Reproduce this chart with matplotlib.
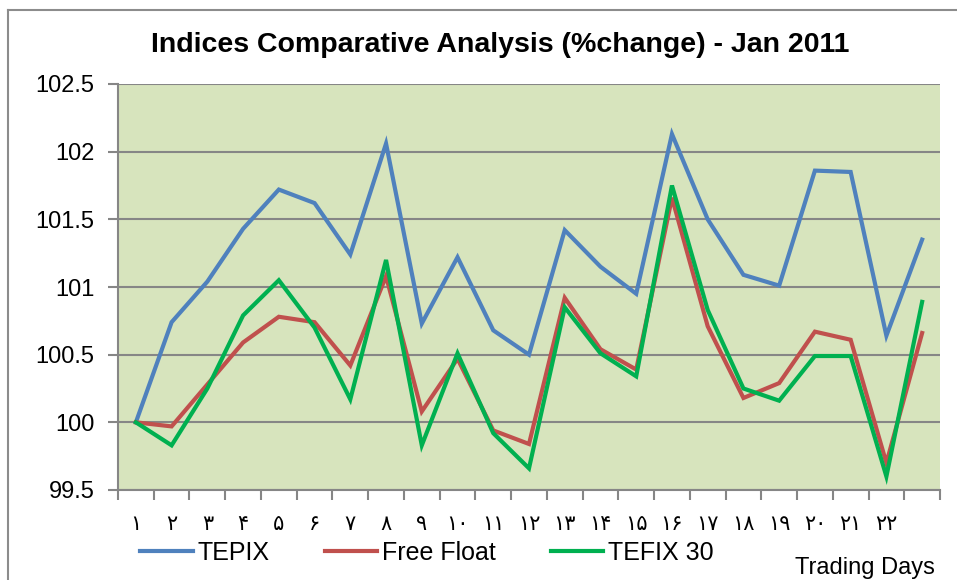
import numpy as np
import matplotlib
matplotlib.use("Agg")
import matplotlib.pyplot as plt
from matplotlib.lines import Line2D

plt.rcParams['font.family'] = ['Liberation Sans', 'DejaVu Sans']

# trading days 1..23 (last one has no label on the axis)
day_labels = ['۱', '۲', '۳', '۴', '۵', '۶', '۷', '۸', '۹', '۱۰', '۱۱',
              '۱۲', '۱۳', '۱۴', '۱۵', '۱۶', '۱۷', '۱۸', '۱۹', '۲۰', '۲۱',
              '۲۲', '']

tepix = [100.0, 100.74, 101.04, 101.43, 101.72, 101.62, 101.24, 102.06,
         100.73, 101.22, 100.68, 100.50, 101.42, 101.15, 100.95, 102.13,
         101.50, 101.09, 101.01, 101.86, 101.85, 100.64, 101.35]
free_float = [100.0, 99.97, 100.28, 100.59, 100.78, 100.74, 100.42, 101.08,
              100.08, 100.47, 99.94, 99.84, 100.92, 100.54, 100.39, 101.66,
              100.71, 100.18, 100.29, 100.67, 100.61, 99.70, 100.66]
tefix30 = [100.0, 99.83, 100.25, 100.79, 101.05, 100.70, 100.17, 101.20,
           99.83, 100.51, 99.92, 99.66, 100.85, 100.51, 100.34, 101.75,
           100.83, 100.25, 100.16, 100.49, 100.49, 99.60, 100.89]

W, H = 957, 580
fig = plt.figure(figsize=(W / 100, H / 100), dpi=100)
ax = fig.add_axes([118 / W, 1 - 490 / H, 822 / W, 406 / H])
ax.set_facecolor('#D7E4BD')

x = np.arange(len(tepix))
ax.plot(x, tepix, color='#4F81BD', lw=3, label='TEPIX', solid_joinstyle='miter')
ax.plot(x, free_float, color='#C0504D', lw=3, label='Free Float', solid_joinstyle='miter')
ax.plot(x, tefix30, color='#00B050', lw=3, label='TEFIX 30', solid_joinstyle='miter')

ax.set_xlim(-0.5, len(x) - 0.5)
ax.set_ylim(99.5, 102.5)
ax.set_yticks(np.arange(99.5, 102.51, 0.5))
ax.set_yticklabels(['99.5', '100', '100.5', '101', '101.5', '102', '102.5'])
ax.yaxis.grid(True, color='#868686', lw=1.5)
ax.set_axisbelow(True)

ax.set_xticks(x)
ax.set_xticklabels(day_labels, fontsize=15)
ax.set_xticks(np.arange(-0.5, len(x)), minor=True)
ax.tick_params(axis='x', which='major', length=0, pad=18)
ax.tick_params(axis='x', which='minor', length=7, width=1.5, color='#868686', direction='out')
ax.tick_params(axis='y', length=7, width=1.5, color='#868686', labelsize=17, pad=10)

for s in ['top', 'right']:
    ax.spines[s].set_visible(False)
for s in ['left', 'bottom']:
    ax.spines[s].set_color('#868686')
    ax.spines[s].set_linewidth(1.5)

fig.text(500 / W, 1 - 45 / H, 'Indices Comparative Analysis (%change) - Jan 2011',
         ha='center', va='center', fontsize=20.5, fontweight='bold')

fig.legend(loc='center left', bbox_to_anchor=(140 / W, 1 - 553 / H), ncol=3,
           frameon=False, fontsize=18, handlelength=2.1, handletextpad=0.2,
           columnspacing=2.2, borderpad=0, borderaxespad=0)

fig.text(795 / W, 1 - 568 / H, 'Trading Days', ha='left', va='center', fontsize=17)

# outer chart frame (left and top edges visible)
fig.add_artist(Line2D([8 / W, 8 / W], [0, 1 - 10 / H], transform=fig.transFigure,
                      color='#8C8C8C', lw=1.5))
fig.add_artist(Line2D([8 / W, 1], [1 - 10 / H, 1 - 10 / H], transform=fig.transFigure,
                      color='#8C8C8C', lw=1.5))

fig.savefig('out.png', dpi=100)
